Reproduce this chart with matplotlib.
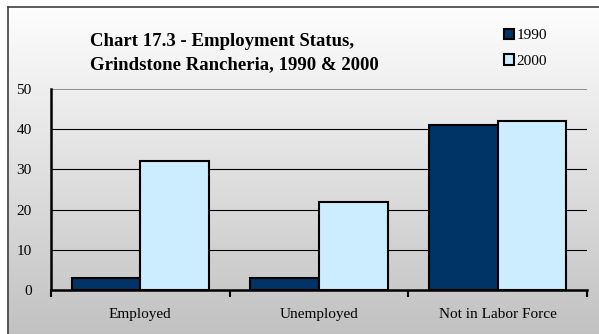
import numpy as np
import matplotlib
matplotlib.use("Agg")
import matplotlib.pyplot as plt
from matplotlib.lines import Line2D

categories = ["Employed", "Unemployed", "Not in Labor Force"]
years = ["1990", "2000"]
values_1990 = [3, 3, 41]
values_2000 = [32, 22, 42]
yticks = [0, 10, 20, 30, 40, 50]
title = "Chart 17.3 - Employment Status,\nGrindstone Rancheria, 1990 & 2000"

W, H = 599, 334
fig = plt.figure(figsize=(W / 100, H / 100), dpi=100)
fig.patch.set_facecolor("white")
plt.rcParams["font.family"] = ["Liberation Serif", "DejaVu Serif"]

# gradient background inside frame
bg = fig.add_axes([7 / W, 0, 1 - 7 / W, 1 - 7 / H], zorder=-5)
grad = np.linspace(0.995, 0.76, 256).reshape(-1, 1)
bg.imshow(np.dstack([grad, grad, grad]), aspect="auto", extent=[0, 1, 0, 1])
bg.set_axis_off()

# frame lines (left and top)
fig.add_artist(Line2D([7.5 / W, 7.5 / W], [0, 1 - 7 / H], transform=fig.transFigure,
                      color="#404040", lw=1.2))
fig.add_artist(Line2D([7.5 / W, 1], [1 - 7 / H, 1 - 7 / H], transform=fig.transFigure,
                      color="#404040", lw=1.2))

ax = fig.add_axes([51 / W, (H - 290) / H, (587 - 51) / W, (290 - 89) / H])
ax.patch.set_alpha(0)

x = np.arange(len(categories))
bw = 0.385
b1 = ax.bar(x - bw / 2, values_1990, bw, color="#003366", edgecolor="black", lw=1.5,
            label=years[0], zorder=3)
b2 = ax.bar(x + bw / 2, values_2000, bw, color="#CCECFF", edgecolor="black", lw=1.5,
            label=years[1], zorder=3)

ax.set_xlim(-0.5, len(categories) - 0.5)
ax.set_ylim(0, 50)
ax.set_yticks(yticks)
ax.set_yticklabels([str(v) for v in yticks], fontsize=11)
ax.tick_params(axis="y", length=0, pad=14)
for v in yticks[1:-1]:
    ax.axhline(v, color="black", lw=0.8, zorder=1)
ax.axhline(50, color="#808080", lw=1.2, zorder=1)

ax.set_xticks(x)
ax.set_xticklabels(categories, fontsize=11)
ax.set_xticks(np.arange(len(categories) + 1) - 0.5, minor=True)
ax.tick_params(axis="x", which="major", length=0, pad=13)
ax.tick_params(axis="x", which="minor", length=5, width=1.5, direction="out")

for s in ["top", "right"]:
    ax.spines[s].set_visible(False)
for s in ["left", "bottom"]:
    ax.spines[s].set_linewidth(1.8)
    ax.spines[s].set_zorder(4)

fig.text(90 / W, 1 - 53 / H, title, ha="left", va="center", fontsize=13.5,
         fontweight="bold", linespacing=1.45)

fig.legend(handles=[b1, b2], labels=years, loc="upper left",
           bbox_to_anchor=(496 / W, 1 - 21 / H), frameon=False, fontsize=11,
           handlelength=0.65, handleheight=0.65, handletextpad=0.2,
           labelspacing=0.8, borderpad=0)

fig.savefig("out.png", dpi=100)
